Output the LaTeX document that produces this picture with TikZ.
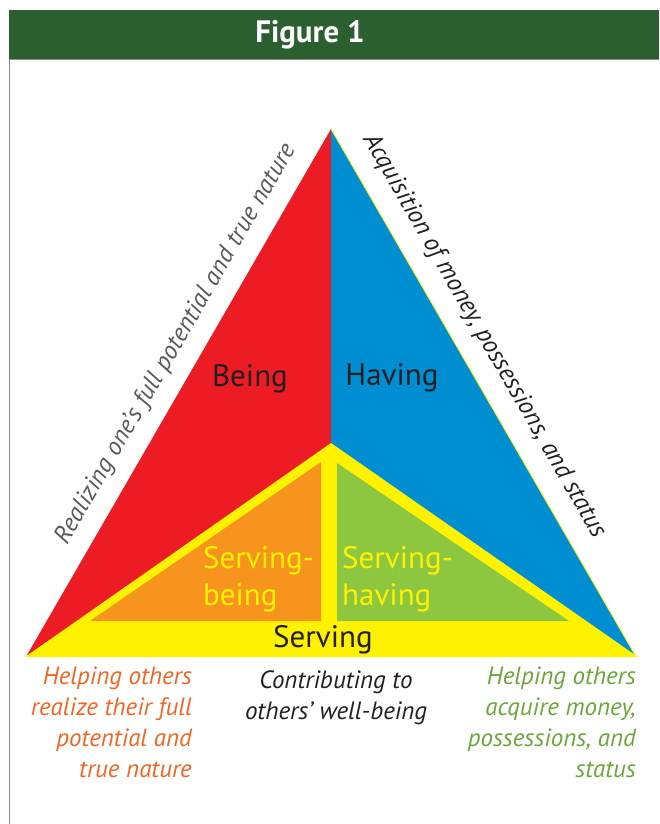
\documentclass[tikz,border=0pt]{standalone}
\usepackage{fontspec}
\setmainfont{PT Sans}
\usepackage{tikz}
\usetikzlibrary{positioning}
\usetikzlibrary{calc}
\definecolor{headgreen}{RGB}{44,95,48}
\definecolor{beingred}{RGB}{237,28,36}
\definecolor{havingblue}{RGB}{0,142,211}
\definecolor{servyellow}{RGB}{255,242,0}
\definecolor{sborange}{RGB}{247,148,29}
\definecolor{shgreen}{RGB}{141,198,63}
\definecolor{textorange}{RGB}{242,101,34}
\definecolor{textgreen}{RGB}{109,165,59}
\definecolor{textgrey}{RGB}{88,89,91}
\definecolor{textdark}{RGB}{35,31,32}
\tikzset{
	frame line/.style = {draw=black!45, line width=0.8pt},
	title/.style = {font=\bfseries\fontsize{31}{36}\selectfont, text=white, inner sep=0pt},
	big label/.style = {font=\fontsize{31}{37}\selectfont, text=textdark, inner sep=0pt},
	yellow label/.style = {font=\fontsize{31}{37}\selectfont, text=servyellow, align=left, inner sep=0pt},
	side label/.style = {font=\itshape\fontsize{25.3}{30}\selectfont, inner sep=0pt},
	foot label/.style = {font=\itshape\fontsize{25}{31}\selectfont, inner sep=0pt},
}
\begin{document}
\begin{tikzpicture}[x=1pt, y=-1pt]
	\useasboundingbox (0,0) rectangle (659,824);
	% header
	\fill[headgreen] (9,10) rectangle (659,59);
	\draw[frame line] (9,824) -- (9,59.5) -- (659,59.5);
	\node (figtitle) [title] at (310,35) {Figure 1};
	% corners of the big triangle
	\coordinate (apex) at (331,129);
	\coordinate (left) at (27,655);
	\coordinate (right) at (635,655);
	\coordinate (foot) at (331,655);
	\coordinate (serv) at (331,443);
	\fill[beingred] (apex) -- (left) -- (foot) -- cycle;
	\fill[havingblue] (apex) -- (right) -- (foot) -- cycle;
	\draw[servyellow, line width=0.8pt] (apex) -- (right);
	\fill[servyellow] (serv) -- (25,657) -- (638,657) -- cycle;
	\fill[sborange] (321,462) -- (90,621) -- (321,621) -- cycle;
	\fill[shgreen] (337,463) -- (569,621) -- (337,621) -- cycle;
	% labels (base of a block = base of its last line)
	\node (being) [big label, anchor=base] at (250,386) {Being};
	\node (having) [big label, anchor=base] at (392,385) {Having};
	\node (servbeing) [yellow label, anchor=base west] at (203,605) {Serving-\\being};
	\node (servhaving) [yellow label, anchor=base west] at (342,605) {Serving-\\having};
	\node (serving) [big label, anchor=base] at (323,647) {Serving};
	\node (realize) [side label, text=textgrey, rotate=60] at (176,344) {Realizing one’s full potential and true nature};
	\node (acquire) [side label, text=textdark, rotate=-60] at (484,336) {Acquisition of money, possessions, and status};
	\node (helpreal) [foot label, text=textorange, align=right, anchor=base east] at (192,777) {Helping others\\realize their full\\potential and\\true nature};
	\node (contrib) [foot label, text=textdark, align=center, anchor=base] at (336,719) {Contributing to\\others’ well-being};
	\node (helpacq) [foot label, text=textgreen, align=right, anchor=base east] at (636,777) {Helping others\\acquire money,\\possessions, and\\status};
\end{tikzpicture}
\end{document}
